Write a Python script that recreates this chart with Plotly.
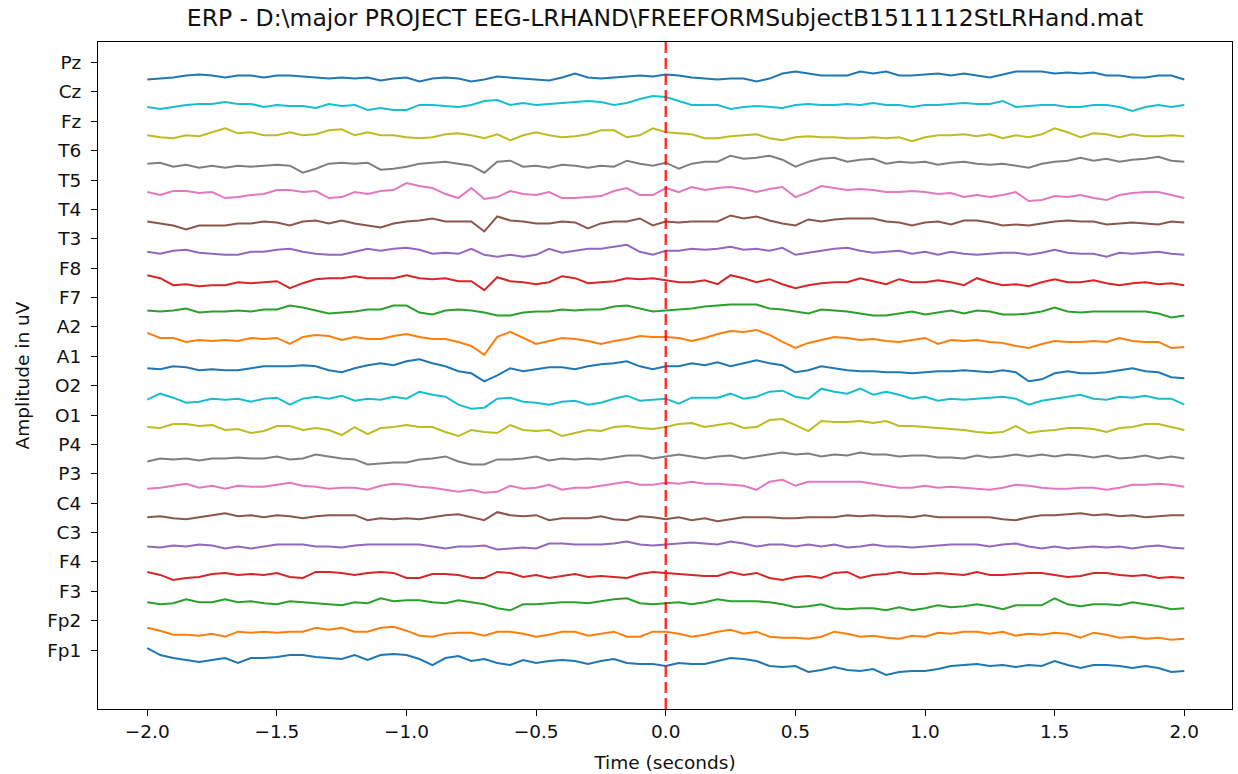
import numpy as np
import plotly.graph_objects as go

TITLE = "ERP - D:\\major PROJECT EEG-LRHAND\\FREEFORMSubjectB1511112StLRHand.mat"

# channel names, bottom -> top
channels = ["Fp1", "Fp2", "F3", "F4", "C3", "C4", "P3", "P4", "O1", "O2",
            "A1", "A2", "F7", "F8", "T3", "T4", "T5", "T6", "Fz", "Cz", "Pz"]

x_ticks = [-2.0, -1.5, -1.0, -0.5, 0.0, 0.5, 1.0, 1.5, 2.0]

# amplitudes (uV) sampled every 0.05 s from -2 s to 2 s
fp1 = [2,-5,-8,-10,-12,-10,-8,-13,-8,-8,-7,-5,-5,-7,-8,-9,-5,-10,-5,-4,-5,-9,-15,-8,-6,-11,-9,-13,
       -15,-10,-13,-11,-10,-11,-14,-11,-9,-13,-14,-14,-16,-13,-14,-14,-11,-8,-9,-11,-16,-17,-16,-22,-20,-17,-20,
       -21,-19,-25,-22,-21,-21,-19,-16,-15,-14,-16,-15,-17,-15,-16,-11,-15,-18,-15,-15,-16,-18,-16,-18,-22,-21]
fp2 = [-7,-10,-14,-14,-15,-13,-16,-11,-12,-11,-12,-11,-11,-7,-9,-7,-11,-11,-7,-6,-10,-15,-16,-13,-12,-12,-15,-11,
       -11,-13,-16,-14,-11,-11,-15,-13,-11,-16,-16,-11,-11,-13,-16,-14,-11,-9,-13,-11,-16,-17,-17,-18,-16,-11,-13,
       -16,-15,-17,-18,-15,-16,-12,-13,-11,-11,-13,-11,-15,-13,-14,-12,-13,-17,-12,-14,-17,-16,-18,-17,-19,-18]
f3 = [-11,-13,-12,-8,-11,-11,-8,-11,-10,-12,-13,-10,-11,-12,-13,-14,-11,-12,-7,-10,-9,-9,-11,-12,-9,-11,-13,-17,
      -19,-13,-13,-12,-11,-11,-12,-10,-8,-7,-12,-13,-12,-11,-13,-11,-8,-10,-10,-10,-11,-13,-16,-15,-13,-17,-18,
      -17,-17,-19,-16,-19,-17,-14,-16,-15,-13,-15,-18,-14,-14,-14,-7,-13,-15,-13,-13,-14,-11,-13,-15,-18,-17]
f4 = [-10,-13,-18,-16,-15,-12,-11,-13,-12,-13,-11,-15,-16,-10,-10,-11,-13,-11,-10,-11,-16,-16,-12,-12,-13,-16,-16,-10,
      -11,-15,-13,-16,-14,-12,-15,-14,-15,-16,-12,-10,-11,-12,-13,-14,-14,-10,-13,-11,-16,-18,-15,-14,-16,-11,-10,
      -16,-13,-12,-10,-12,-12,-11,-12,-13,-10,-13,-13,-12,-11,-11,-13,-15,-14,-11,-11,-13,-14,-13,-16,-15,-16]
c3 = [-14,-15,-13,-14,-12,-13,-16,-14,-16,-14,-12,-12,-12,-14,-14,-15,-13,-12,-12,-12,-12,-12,-14,-16,-14,-14,-13,-17,
      -16,-15,-16,-11,-11,-12,-12,-12,-11,-9,-12,-13,-12,-11,-10,-11,-12,-9,-11,-14,-12,-12,-14,-12,-14,-12,-15,
      -14,-12,-14,-14,-15,-14,-13,-12,-12,-12,-14,-12,-11,-14,-16,-14,-16,-15,-14,-15,-14,-16,-14,-13,-15,-16]
c4 = [-14,-13,-15,-16,-14,-12,-10,-13,-12,-14,-12,-13,-15,-13,-12,-12,-12,-17,-15,-16,-15,-16,-14,-12,-11,-14,-17,-9,
      -12,-13,-12,-17,-15,-15,-15,-13,-16,-17,-13,-14,-16,-14,-17,-15,-18,-16,-14,-14,-14,-15,-15,-14,-14,-14,-12,
      -13,-12,-13,-13,-14,-12,-14,-14,-14,-14,-14,-16,-17,-14,-12,-12,-11,-10,-12,-11,-13,-12,-14,-13,-12,-12]
p3 = [-15,-14,-12,-10,-14,-12,-15,-12,-13,-13,-11,-9,-12,-13,-15,-14,-14,-16,-12,-10,-11,-13,-14,-16,-18,-16,-19,-18,
      -12,-15,-14,-11,-16,-14,-14,-12,-10,-8,-11,-11,-9,-10,-8,-10,-10,-11,-12,-16,-8,-6,-12,-8,-8,-8,-8,
      -8,-10,-12,-14,-14,-12,-14,-13,-14,-15,-16,-14,-11,-12,-14,-15,-15,-14,-14,-16,-14,-11,-11,-10,-11,-13]
p4 = [-17,-14,-15,-14,-16,-14,-14,-13,-14,-14,-12,-15,-14,-10,-12,-14,-15,-20,-19,-18,-18,-15,-14,-12,-17,-20,-20,-15,
      -15,-14,-12,-16,-14,-15,-14,-15,-13,-11,-11,-14,-12,-10,-12,-14,-12,-11,-14,-12,-10,-8,-10,-9,-12,-10,-11,
      -8,-10,-10,-12,-11,-11,-13,-13,-14,-11,-13,-12,-10,-12,-10,-12,-10,-11,-13,-11,-14,-13,-11,-14,-12,-14]
o1 = [-12,-13,-9,-9,-11,-10,-15,-14,-18,-16,-11,-11,-15,-13,-15,-20,-12,-19,-13,-12,-10,-12,-12,-17,-21,-15,-17,-18,
      -10,-15,-16,-15,-21,-18,-15,-16,-12,-11,-13,-14,-12,-9,-8,-12,-10,-8,-13,-12,-5,-4,-10,-16,-6,-7,-7,
      -6,-8,-6,-11,-11,-12,-13,-14,-15,-17,-18,-17,-11,-18,-16,-15,-13,-13,-14,-17,-13,-12,-9,-9,-12,-15]
o2 = [-14,-8,-12,-17,-16,-13,-14,-13,-16,-13,-12,-19,-13,-11,-13,-10,-15,-13,-14,-11,-13,-6,-9,-11,-19,-23,-22,-13,
      -12,-16,-17,-19,-16,-15,-19,-17,-13,-10,-15,-14,-13,-18,-12,-12,-12,-8,-13,-11,-6,-5,-11,-13,-3,-6,-8,
      -3,-9,-6,-9,-13,-11,-15,-13,-14,-13,-12,-11,-13,-19,-15,-13,-11,-9,-13,-14,-11,-12,-10,-13,-13,-19]
a1 = [-12,-13,-10,-11,-14,-13,-14,-14,-12,-10,-10,-10,-9,-10,-14,-16,-12,-9,-7,-9,-5,-3,-7,-10,-15,-17,-25,-19,
      -12,-15,-13,-11,-11,-13,-10,-8,-7,-5,-10,-13,-10,-10,-7,-9,-6,-10,-7,-4,-7,-9,-16,-14,-10,-12,-14,
      -15,-15,-16,-16,-17,-16,-15,-15,-14,-15,-16,-14,-16,-25,-23,-17,-15,-17,-17,-16,-14,-12,-15,-16,-21,-22]
a2 = [-6,-11,-11,-15,-13,-14,-13,-14,-11,-12,-11,-17,-10,-8,-9,-13,-10,-12,-12,-9,-7,-10,-12,-12,-15,-19,-28,-10,
      -5,-11,-17,-14,-11,-12,-14,-17,-14,-12,-9,-10,-10,-11,-14,-11,-7,-4,-5,-3,-8,-15,-21,-16,-13,-10,-11,
      -13,-12,-14,-15,-13,-11,-17,-13,-14,-13,-15,-16,-19,-21,-17,-14,-15,-15,-14,-15,-11,-14,-15,-15,-21,-20]
f7 = [-13,-14,-13,-11,-15,-14,-14,-13,-14,-12,-12,-8,-10,-13,-16,-15,-14,-12,-12,-8,-8,-15,-17,-13,-12,-13,-15,-18,
      -18,-15,-14,-14,-12,-13,-12,-12,-9,-8,-11,-14,-13,-12,-11,-9,-8,-7,-7,-7,-11,-12,-14,-16,-12,-13,-14,
      -16,-18,-18,-16,-14,-17,-15,-13,-16,-13,-14,-17,-17,-16,-14,-10,-14,-15,-14,-14,-14,-14,-14,-16,-20,-18]
f8 = [-7,-10,-17,-16,-18,-17,-17,-14,-15,-14,-13,-20,-15,-11,-10,-10,-8,-10,-10,-10,-7,-10,-11,-10,-13,-13,-22,-9,
      -13,-14,-16,-14,-8,-10,-15,-14,-13,-10,-11,-10,-12,-14,-14,-12,-16,-7,-10,-14,-11,-16,-20,-17,-15,-14,-14,
      -10,-13,-16,-11,-14,-14,-12,-14,-17,-10,-14,-17,-16,-18,-14,-11,-14,-14,-12,-15,-17,-15,-14,-16,-15,-17]
t3 = [-13,-15,-12,-11,-14,-15,-16,-16,-13,-13,-11,-10,-13,-15,-16,-16,-13,-10,-12,-10,-9,-11,-15,-14,-15,-10,-16,-18,
      -16,-18,-16,-10,-14,-12,-10,-10,-8,-6,-13,-16,-12,-12,-10,-11,-10,-8,-11,-10,-12,-9,-16,-14,-12,-10,-9,
      -12,-14,-13,-12,-15,-13,-16,-13,-15,-16,-15,-14,-14,-16,-14,-11,-14,-15,-15,-18,-14,-15,-14,-13,-15,-16]
t4 = [-12,-14,-16,-20,-16,-16,-16,-14,-14,-12,-13,-16,-12,-11,-14,-11,-14,-16,-18,-14,-12,-11,-9,-12,-12,-12,-22,-7,
      -11,-12,-14,-14,-12,-13,-19,-14,-12,-12,-9,-16,-12,-13,-12,-12,-12,-6,-9,-7,-11,-14,-16,-10,-12,-10,-9,
      -9,-9,-12,-13,-16,-13,-12,-15,-11,-11,-13,-16,-15,-16,-14,-12,-11,-12,-12,-15,-14,-13,-14,-15,-12,-13]
t5 = [-12,-15,-11,-11,-13,-12,-18,-17,-15,-14,-10,-10,-12,-11,-18,-17,-12,-14,-11,-10,-3,-6,-8,-14,-18,-8,-19,-17,
      -11,-14,-15,-12,-18,-18,-17,-16,-11,-8,-15,-15,-8,-12,-7,-10,-8,-7,-9,-12,-9,-7,-17,-12,-6,-8,-10,
      -9,-10,-12,-12,-11,-12,-14,-13,-17,-15,-17,-15,-12,-21,-20,-16,-17,-15,-18,-20,-15,-13,-12,-12,-15,-18]
t6 = [-13,-12,-16,-14,-17,-15,-17,-15,-16,-15,-14,-15,-22,-18,-13,-12,-13,-12,-19,-18,-16,-13,-12,-11,-13,-15,-22,-11,
      -10,-16,-15,-17,-14,-15,-17,-15,-16,-10,-13,-15,-12,-18,-13,-11,-11,-5,-8,-7,-5,-9,-16,-11,-8,-7,-11,
      -9,-8,-13,-11,-12,-11,-14,-12,-11,-13,-14,-13,-15,-17,-13,-11,-10,-7,-10,-8,-11,-9,-8,-6,-10,-11]
fz = [-14,-16,-17,-14,-15,-11,-7,-12,-11,-14,-14,-11,-14,-13,-9,-8,-14,-11,-14,-14,-16,-17,-16,-13,-12,-14,-17,-13,
      -19,-14,-11,-14,-16,-15,-13,-9,-9,-16,-14,-7,-11,-12,-13,-17,-17,-15,-14,-13,-17,-19,-16,-15,-16,-16,-17,
      -17,-16,-17,-16,-20,-16,-14,-14,-13,-15,-13,-17,-14,-16,-13,-7,-11,-16,-12,-13,-16,-13,-15,-15,-14,-15]
cz = [-15,-17,-15,-13,-12,-12,-10,-12,-12,-15,-13,-14,-14,-16,-12,-14,-13,-18,-16,-18,-18,-13,-13,-14,-15,-13,-9,-8,
      -13,-11,-13,-12,-11,-10,-9,-10,-13,-11,-7,-4,-5,-9,-13,-13,-13,-17,-15,-14,-15,-16,-13,-12,-13,-13,-12,
      -13,-11,-13,-13,-15,-13,-13,-12,-11,-12,-12,-9,-15,-14,-13,-13,-15,-15,-13,-13,-15,-19,-15,-13,-15,-13]
pz = [-17,-16,-15,-13,-12,-13,-15,-13,-13,-15,-13,-13,-14,-15,-16,-15,-16,-15,-18,-16,-15,-19,-16,-15,-16,-19,-17,-14,
      -15,-16,-17,-18,-15,-11,-15,-16,-15,-14,-13,-14,-12,-13,-15,-16,-17,-16,-16,-19,-16,-11,-9,-11,-13,-13,-13,
      -9,-11,-9,-13,-13,-12,-11,-13,-11,-13,-15,-12,-9,-9,-9,-11,-10,-11,-10,-13,-13,-15,-15,-13,-13,-17]

signals = [fp1, fp2, f3, f4, c3, c4, p3, p4, o1, o2,
           a1, a2, f7, f8, t3, t4, t5, t6, fz, cz, pz]

OFFSET = 29.4  # vertical spacing between channels
tab10 = ["#1f77b4", "#ff7f0e", "#2ca02c", "#d62728", "#9467bd",
         "#8c564b", "#e377c2", "#7f7f7f", "#bcbd22", "#17becf"]

fig = go.Figure()
for i, (name, sig) in enumerate(zip(channels, signals)):
    t = np.linspace(-2.0, 2.0, len(sig))
    fig.add_trace(go.Scatter(
        x=t, y=np.array(sig, dtype=float) + i * OFFSET, mode="lines", name=name,
        line=dict(color=tab10[i % 10], width=2), showlegend=False))

fig.add_shape(type="line", xref="x", yref="paper", x0=0, x1=0, y0=0, y1=1,
              line=dict(color="rgba(255,0,0,0.8)", width=2.5, dash="11px,5px"),
              layer="above")

font = "DejaVu Sans"
axis_common = dict(showline=True, mirror=True, linecolor="black", linewidth=1,
                   ticks="outside", ticklen=6, tickcolor="black", showgrid=False,
                   zeroline=False, tickfont=dict(family=font, size=18.5, color="#111"))

fig.update_layout(
    width=1238, height=774,
    margin=dict(l=98, r=6, t=42, b=65),
    paper_bgcolor="white", plot_bgcolor="white",
    title=dict(text=TITLE, x=0.5, xref="paper", xanchor="center",
               y=1 - 18 / 774, yref="container", yanchor="middle",
               font=dict(family=font, size=23.5, color="#111")),
    xaxis=dict(range=[-2.19, 2.184], tickvals=x_ticks, tickformat=".1f",
               title=dict(text="Time (seconds)", standoff=14,
                          font=dict(family=font, size=18.5, color="#111")),
               **axis_common),
    yaxis=dict(range=[-59, 608.6], tickvals=[i * OFFSET for i in range(len(channels))],
               ticktext=channels, ticklabelstandoff=6,
               title=dict(text="Amplitude in uV", standoff=12,
                          font=dict(family=font, size=18.5, color="#111")),
               **axis_common),
)

fig.write_html("out.html")
